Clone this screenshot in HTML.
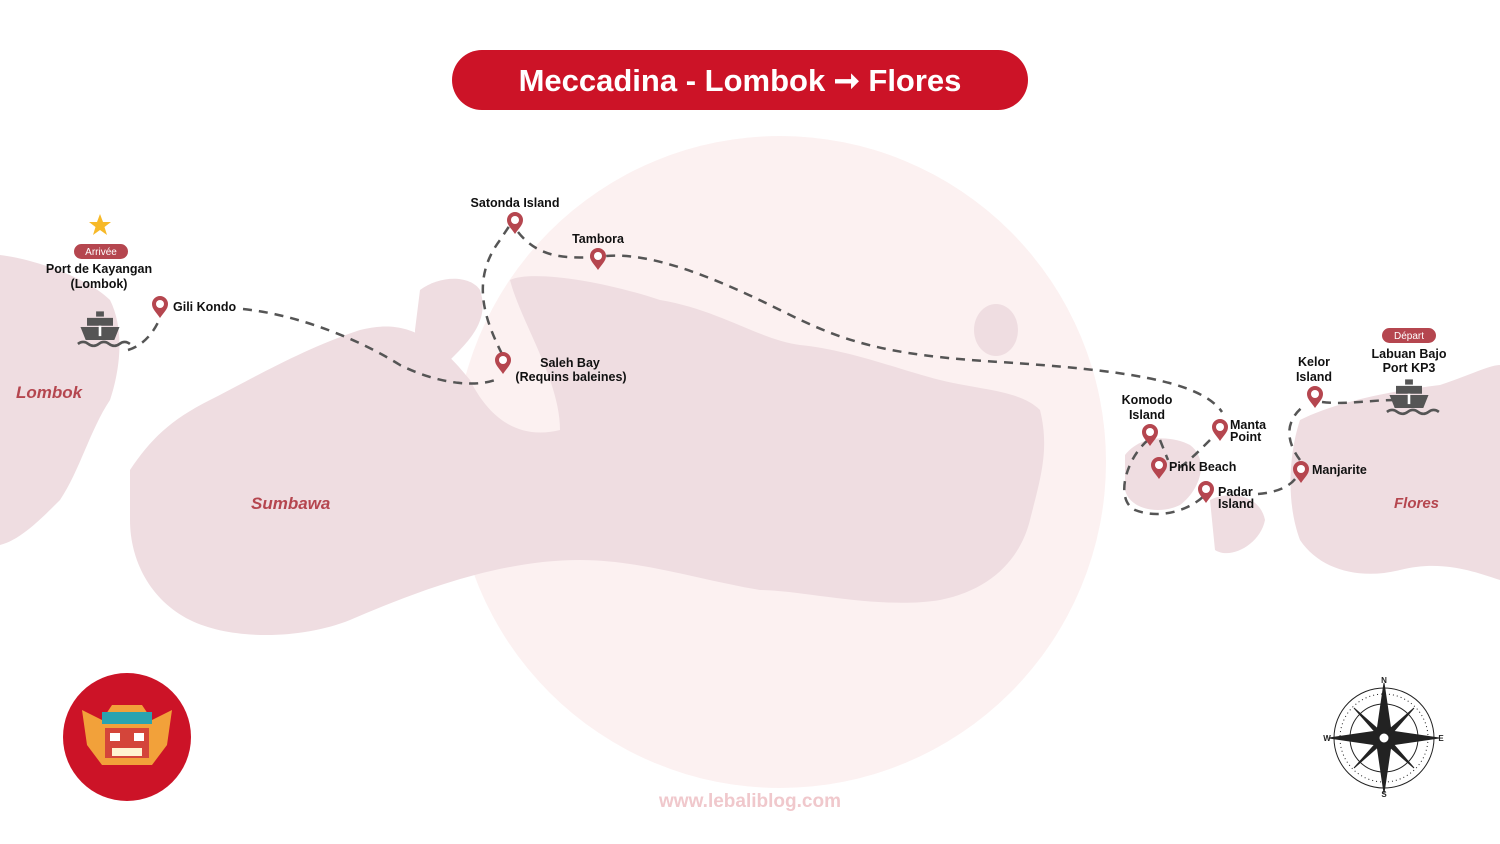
<!DOCTYPE html>
<html><head><meta charset="utf-8"><style>
html,body{margin:0;padding:0;background:#fff;}
body{width:1500px;height:844px;overflow:hidden;position:relative;font-family:"Liberation Sans",sans-serif;}
svg{position:absolute;left:0;top:0;}
</style></head><body>
<svg width="1500" height="844" viewBox="0 0 1500 844">
<defs>
<g id="pin"><path d="M0 0 C-4 -6 -8 -9 -8 -14 A8 8 0 1 1 8 -14 C8 -9 4 -6 0 0Z" fill="#b5464f"/><circle cx="0" cy="-14" r="4" fill="#fff"/></g>
<g id="ship" fill="#555"><path d="M-3 -22 h6 v4 h-6z"/><path d="M-10 -17 h20 v6 h-20z"/><path d="M-15 -10 h30 l-4 10 h-22z"/><rect x="-1" y="-11" width="2" height="8" fill="#fff"/><path d="M-17 3 q4 -3 8 0 q4 3 8 0 q4 -3 8 0 q4 3 8 0 q4 -3 8 0" stroke="#555" stroke-width="2" fill="none"/></g>
</defs>
<circle cx="780" cy="462" r="326" fill="#fcf1f1"/>
<g fill="#efdde1">
<path d="M0 255 C40 260 90 280 110 300 C125 330 120 370 110 400 C90 430 80 470 60 500 C40 520 20 540 0 545Z"/>
<path d="M130 470 C150 440 170 420 210 400 C250 380 300 350 360 330 C400 320 430 330 470 380 C490 420 520 440 560 430 C560 380 520 320 510 280 C530 270 600 280 660 300 C720 310 760 340 800 345 C850 350 900 370 940 380 C980 390 1020 390 1040 410 C1050 450 1040 480 1030 520 C1020 560 990 590 940 600 C880 610 800 590 760 590 C700 580 640 560 580 560 C500 560 420 590 350 620 C300 640 230 640 190 620 C150 600 130 560 130 520Z"/>
<path d="M420 290 C440 275 470 275 480 290 C490 320 470 340 450 360 C430 380 415 360 415 330Z"/>
<ellipse cx="996" cy="330" rx="22" ry="26"/>
<path d="M1125 455 C1140 435 1170 435 1190 445 C1210 460 1200 490 1180 505 C1160 515 1130 510 1125 490Z"/>
<path d="M1210 500 C1230 490 1260 495 1265 520 C1260 545 1230 560 1215 550Z"/>
<path d="M1300 420 C1340 400 1400 390 1440 385 C1470 375 1490 365 1500 365 L1500 580 C1470 570 1440 560 1400 570 C1360 580 1320 570 1300 540 C1285 500 1290 450 1300 420Z"/>
</g>
<g fill="none" stroke="#555" stroke-width="2.5" stroke-dasharray="9 7">
<path d="M128 350 C145 345 155 330 160 318"/>
<path d="M243 309 C300 315 360 340 400 365 C440 385 480 388 500 378"/>
<path d="M502 354 C485 320 470 280 500 240 L512 222"/>
<path d="M518 232 C540 260 570 258 598 257 C640 250 700 270 780 310 C840 340 880 355 1000 362 C1120 370 1200 380 1222 412"/>
<path d="M1148 440 C1125 460 1115 500 1135 510 C1160 520 1190 510 1205 495"/>
<path d="M1160 440 L1168 460"/>
<path d="M1210 440 C1195 455 1185 465 1175 470"/>
<path d="M1258 494 C1280 492 1295 485 1300 470"/>
<path d="M1300 460 C1285 440 1285 420 1305 405"/>
<path d="M1322 402 C1345 405 1370 400 1395 400"/>
</g>
<use href="#pin" x="160" y="318"/>
<use href="#pin" x="515" y="234"/>
<use href="#pin" x="598" y="270"/>
<use href="#pin" x="503" y="374"/>
<use href="#pin" x="1150" y="446"/>
<use href="#pin" x="1220" y="441"/>
<use href="#pin" x="1159" y="479"/>
<use href="#pin" x="1206" y="503"/>
<use href="#pin" x="1301" y="483"/>
<use href="#pin" x="1315" y="408"/>
<g transform="translate(100,340) scale(1.3)"><use href="#ship"/></g>
<g transform="translate(1409,408) scale(1.3)"><use href="#ship"/></g>
<path d="M100 214 l3 8 h8 l-6.5 5 l2.5 8 l-7 -5 l-7 5 l2.5 -8 l-6.5 -5 h8z" fill="#f7b928"/>
<rect x="74" y="244" width="54" height="15" rx="7.5" fill="#b5464f"/>
<rect x="1382" y="328" width="54" height="15" rx="7.5" fill="#b5464f"/>
<g font-family="Liberation Sans, sans-serif" font-weight="bold" font-size="12.5" fill="#111">
<text x="101" y="255" font-size="10" fill="#fff" text-anchor="middle" font-weight="normal">Arrivée</text>
<text x="1409" y="339" font-size="10" fill="#fff" text-anchor="middle" font-weight="normal">Départ</text>
<text x="99" y="273" text-anchor="middle">Port de Kayangan</text>
<text x="99" y="288" text-anchor="middle">(Lombok)</text>
<text x="173" y="311">Gili Kondo</text>
<text x="515" y="207" text-anchor="middle">Satonda Island</text>
<text x="598" y="243" text-anchor="middle">Tambora</text>
<text x="570" y="367" text-anchor="middle">Saleh Bay</text>
<text x="571" y="381" text-anchor="middle">(Requins baleines)</text>
<text x="1147" y="404" text-anchor="middle">Komodo</text>
<text x="1147" y="419" text-anchor="middle">Island</text>
<text x="1230" y="429">Manta</text>
<text x="1230" y="441">Point</text>
<text x="1169" y="471">Pink Beach</text>
<text x="1218" y="496">Padar</text>
<text x="1218" y="508">Island</text>
<text x="1312" y="474">Manjarite</text>
<text x="1314" y="366" text-anchor="middle">Kelor</text>
<text x="1314" y="381" text-anchor="middle">Island</text>
<text x="1409" y="358" text-anchor="middle">Labuan Bajo</text>
<text x="1409" y="372" text-anchor="middle">Port KP3</text>
</g>
<g font-family="Liberation Sans, sans-serif" font-weight="bold" font-style="italic" font-size="17" fill="#b5464f">
<text x="16" y="398">Lombok</text>
<text x="251" y="509">Sumbawa</text>
<text x="1394" y="508" font-size="15">Flores</text>
</g>
<rect x="452" y="50" width="576" height="60" rx="30" fill="#cc1327"/>
<text x="740" y="91" text-anchor="middle" font-family="Liberation Sans, sans-serif" font-weight="bold" font-size="31" fill="#fff">Meccadina - Lombok ➞ Flores</text>
<text x="750" y="807" text-anchor="middle" font-family="Liberation Sans, sans-serif" font-weight="bold" font-size="19" fill="#f0c8cc">www.lebaliblog.com</text>
<circle cx="127" cy="737" r="64" fill="#cc1327"/>
<g>
<path d="M82 710 l20 10 l10 -15 h30 l10 15 l20 -10 l-5 35 l-15 20 h-50 l-15 -20z" fill="#f2a13a"/>
<rect x="102" y="712" width="50" height="12" fill="#2aa3b0"/>
<rect x="105" y="728" width="44" height="30" fill="#d4453a"/>
<rect x="110" y="733" width="10" height="8" fill="#fff"/><rect x="134" y="733" width="10" height="8" fill="#fff"/>
<rect x="112" y="748" width="30" height="8" fill="#fff3d0"/>
</g>
<g transform="translate(1384,738)" fill="none" stroke="#222">
<circle r="50" stroke-width="1"/><circle r="44" stroke-width="1" stroke-dasharray="1 3"/><circle r="34" stroke-width="1"/>
<path d="M0 -55 L7 -7 L55 0 L7 7 L0 55 L-7 7 L-55 0 L-7 -7Z" fill="#222"/>
<path d="M30 -30 L4 0 L-30 30 L0 -4Z" fill="#222"/><path d="M-30 -30 L0 4 L30 30 L4 0Z" fill="#222"/>
<circle r="5" fill="#fff"/>
</g>
<g font-family="Liberation Sans, sans-serif" font-size="8" font-weight="bold" fill="#222" text-anchor="middle">
<text x="1384" y="683">N</text><text x="1384" y="797">S</text><text x="1327" y="741">W</text><text x="1441" y="741">E</text>
</g>
</svg>
</body></html>
